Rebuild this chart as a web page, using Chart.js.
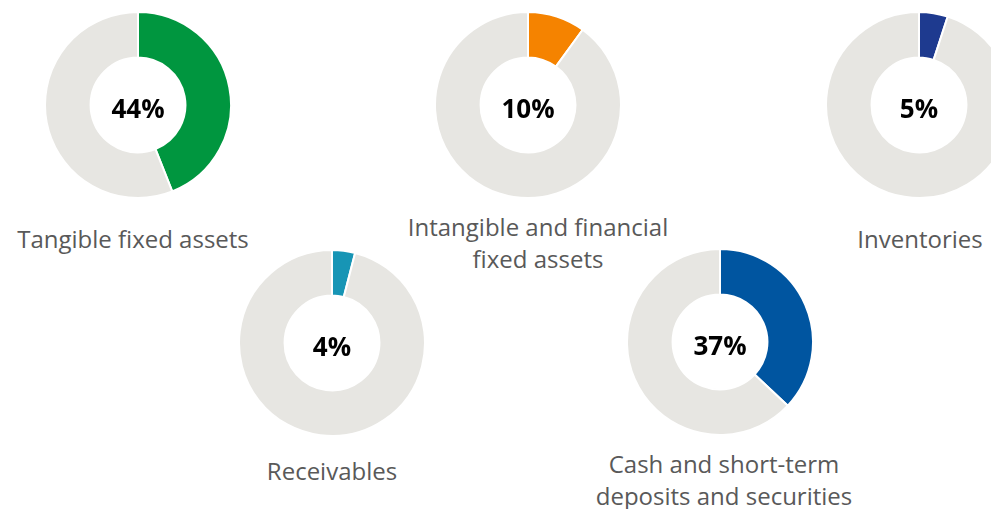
<!DOCTYPE html>
<html>
<head>
<meta charset="utf-8">
<script src="https://cdn.jsdelivr.net/npm/chart.js@4"></script>
<style>
  html, body { margin: 0; padding: 0; background: #fff; }
  body { width: 991px; height: 509px; position: relative; overflow: hidden; font-family: "Open Sans", sans-serif; }
  .box { position: absolute; }
  .pct { position: absolute; left: 0; right: 0; text-align: center; font-weight: 700; font-size: 26px; color: #000; }
  .lbl { position: absolute; width: 320px; text-align: center; font-size: 24px; line-height: 32px; color: #595959; }
</style>
</head>
<body>
<script>
// chart data
const categories = ['Tangible fixed assets', 'Intangible and financial\nfixed assets', 'Inventories', 'Receivables', 'Cash and short-term\ndeposits and securities'];
const shares = [44, 10, 5, 4, 37];
const colors = ['#00963f', '#f58300', '#1e3a8f', '#1795b5', '#0055a0'];
const restColor = '#e7e6e2';

// placement of each ring: centre x, centre y, label centre y
const layout = [
    { cx: 138, cy: 105, ly: 239 },
    { cx: 528, cy: 105, ly: 227 },
    { cx: 919, cy: 105, ly: 239 },
    { cx: 332, cy: 343, ly: 471 },
    { cx: 720, cy: 342, ly: 464 }
];
const labelX = [133, 538, 920, 332, 724];
const R = 94;

document.addEventListener("DOMContentLoaded", () => {
    categories.forEach((name, i) => {
        const pos = layout[i];
        const box = document.createElement('div');
        box.className = 'box';
        box.style.left = (pos.cx - R) + 'px';
        box.style.top = (pos.cy - R) + 'px';
        box.style.width = (2 * R) + 'px';
        box.style.height = (2 * R) + 'px';
        const canvas = document.createElement('canvas');
        canvas.width = 2 * R;
        canvas.height = 2 * R;
        box.appendChild(canvas);

        const pct = document.createElement('div');
        pct.className = 'pct';
        pct.style.top = (R - 15) + 'px';
        pct.innerText = shares[i] + '%';
        box.appendChild(pct);
        document.body.appendChild(box);

        const lbl = document.createElement('div');
        lbl.className = 'lbl';
        lbl.style.left = (labelX[i] - 160) + 'px';
        lbl.style.top = (pos.ly - 16) + 'px';
        lbl.innerText = name;
        document.body.appendChild(lbl);

        new Chart(canvas, {
            type: 'doughnut',
            data: {
                labels: [name, 'Other'],
                datasets: [{
                    data: [shares[i], 100 - shares[i]],
                    backgroundColor: [colors[i], restColor],
                    borderColor: '#fff',
                    borderWidth: 2
                }]
            },
            options: {
                responsive: false,
                animation: false,
                cutout: '51%',
                layout: { padding: 0 },
                plugins: {
                    legend: { display: false },
                    tooltip: { enabled: false }
                }
            }
        });
    });
});
</script>
</body>
</html>
